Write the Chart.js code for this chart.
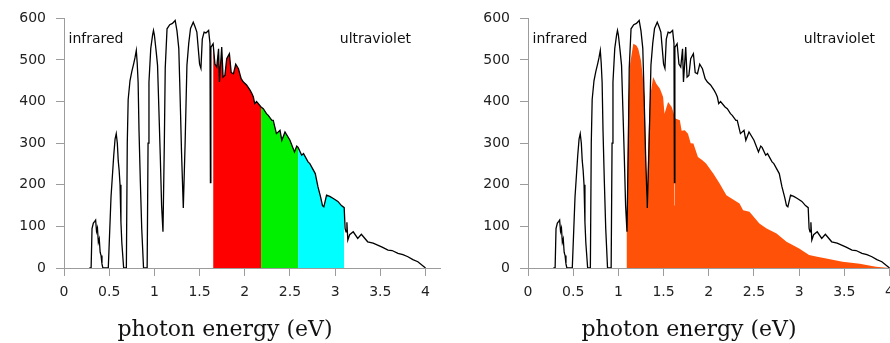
<!DOCTYPE html>
<html>
<head>
<meta charset="utf-8">
<script src="https://cdn.jsdelivr.net/npm/chart.js@4/dist/chart.umd.min.js"></script>
<style>
html, body { margin: 0; padding: 0; background: #fff; width: 890px; height: 343px; overflow: hidden; }
.panel { position: absolute; top: 0; width: 450px; height: 343px; }
</style>
</head>
<body>
<div class="panel" style="left:0"><canvas id="left"></canvas></div>
<div class="panel" style="left:464px"><canvas id="right"></canvas></div>
<script>
// solar spectrum, black curve (photon energy eV, W/m2/eV)
var energy = [
  0.28, 0.30, 0.31, 0.325, 0.34, 0.35, 0.36, 0.37, 0.38, 0.39, 0.40, 0.41, 0.42, 0.43,
  0.49, 0.52, 0.55, 0.565, 0.578, 0.59, 0.60, 0.61, 0.62, 0.63, 0.64, 0.66,
  0.69, 0.70, 0.71, 0.73, 0.75, 0.77, 0.785, 0.80, 0.81, 0.82, 0.83, 0.845, 0.86, 0.88,
  0.92, 0.93, 0.94, 0.96, 0.98, 0.99, 1.00, 1.02, 1.035, 1.05, 1.065, 1.08, 1.095,
  1.11, 1.12, 1.14, 1.17, 1.20, 1.23, 1.25, 1.27, 1.28, 1.29, 1.30, 1.32,
  1.34, 1.36, 1.38, 1.40, 1.43, 1.45, 1.47, 1.50, 1.515, 1.53, 1.55, 1.57, 1.60, 1.615, 1.62, 1.625,
  1.65, 1.67, 1.69, 1.71, 1.72, 1.745, 1.76, 1.78, 1.80, 1.83, 1.85, 1.875, 1.90, 1.93, 1.96, 1.985,
  2.02, 2.06, 2.08, 2.095, 2.11, 2.13, 2.18, 2.205, 2.24, 2.26, 2.30, 2.315, 2.35, 2.39, 2.41, 2.445,
  2.50, 2.55, 2.575, 2.59, 2.63, 2.65, 2.70, 2.72, 2.78, 2.81, 2.84, 2.86, 2.875, 2.905, 2.94, 2.98,
  3.03, 3.07, 3.10, 3.11, 3.12, 3.13, 3.14, 3.16, 3.20, 3.25, 3.29, 3.36, 3.42, 3.47, 3.52, 3.585,
  3.63, 3.695, 3.75, 3.805, 3.86, 3.915, 4.00
];
var spectrum = [
  0, 0, 95, 108, 112, 115, 88, 96, 62, 70, 38, 30, 10, 0,
  0, 170, 270, 310, 323, 300, 258, 235, 200, 110, 60, 0,
  0, 300, 405, 450, 472, 490, 505, 523, 492, 447, 330, 205, 95, 0,
  0, 300, 447, 528, 560, 571, 560, 520, 487, 380, 271, 150, 87,
  300, 480, 575, 585, 588, 595, 570, 528, 450, 367, 280, 144,
  300, 487, 540, 576, 591, 580, 567, 490, 480, 550, 567, 565, 571, 540, 205, 530,
  539, 490, 483, 527, 447, 531, 459, 463, 503, 515, 470, 467, 490, 479, 455, 447,
  440, 427, 419, 411, 395, 400, 387, 383, 371, 367, 355, 355, 323, 331, 307, 327,
  307, 279, 293, 290, 271, 275, 255, 251, 227, 195, 170, 150, 147, 175, 172, 167,
  160, 150, 145, 95, 87, 110, 67, 80, 87, 71, 81, 63, 60, 55, 50, 43,
  42, 35, 32, 27, 20, 15, 0
];

// colour bands under the curve (left panel)
var bandEdges = [1.65, 2.18, 2.59, 3.10];
var bandColors = ['#ff0000', '#00f000', '#00ffff'];

// orange area (right panel)
var usedEnergy = [
  1.09, 1.10, 1.11, 1.13, 1.165, 1.20, 1.22, 1.25, 1.27, 1.29, 1.305, 1.315, 1.33, 1.35,
  1.385, 1.42, 1.46, 1.495, 1.51, 1.55, 1.59, 1.615, 1.62, 1.625, 1.68, 1.70, 1.735, 1.77,
  1.80, 1.83, 1.88, 1.93, 1.97, 2.05, 2.12, 2.195, 2.23, 2.34, 2.38, 2.45, 2.56, 2.64,
  2.75, 2.86, 3.00, 3.11, 3.20, 3.30, 3.48, 3.67, 3.85, 4.00
];
var usedPower = [
  87, 250, 400, 491, 539, 535, 527, 499, 460, 411, 250, 147, 300, 411,
  459, 443, 431, 411, 371, 399, 387, 370, 150, 360, 355, 330, 331, 323,
  300, 299, 267, 259, 251, 227, 203, 175, 170, 155, 139, 135, 107, 95,
  83, 63, 47, 31, 27, 23, 15, 10, 3, 0
];

var xTicks = [0, 0.5, 1, 1.5, 2, 2.5, 3, 3.5, 4];
var yTicks = [0, 100, 200, 300, 400, 500, 600];

var axisGrey = '#9c9c9c';

function pts(xs, ys) {
  return xs.map(function(x, i) { return {x: x, y: ys[i]}; });
}

function axes() {
  return {
    x: {
      type: 'linear', min: 0, max: 4.16, z: 1,
      afterBuildTicks: function(s) { s.ticks = xTicks.map(function(v) { return {value: v}; }); },
      afterFit: function(s) { s.height = 75; },
      grid: { drawOnChartArea: false, drawTicks: true, tickLength: 8, color: axisGrey },
      border: { color: axisGrey, width: 1 },
      ticks: { color: '#222', padding: 8, maxRotation: 0, font: { family: 'DejaVu Sans', size: 14 },
        callback: function(v) { return String(v); } }
    },
    y: {
      type: 'linear', min: 0, max: 600, z: 1,
      afterBuildTicks: function(s) { s.ticks = yTicks.map(function(v) { return {value: v}; }); },
      afterFit: function(s) { s.width = 64; },
      grid: { drawOnChartArea: false, drawTicks: true, tickLength: 8, color: axisGrey },
      border: { color: axisGrey, width: 1 },
      ticks: { color: '#222', padding: 10, font: { family: 'DejaVu Sans', size: 14 } }
    }
  };
}

var textPlugin = {
  id: 'panelText',
  afterDraw: function(chart) {
    var ctx = chart.ctx, x = chart.scales.x, y = chart.scales.y;
    ctx.save();
    ctx.fillStyle = '#111';
    ctx.font = '14px "DejaVu Sans"';
    ctx.textBaseline = 'middle';
    ctx.textAlign = 'left';
    ctx.fillText('infrared', x.getPixelForValue(0.05), y.getPixelForValue(550));
    ctx.textAlign = 'right';
    ctx.fillText('ultraviolet', x.getPixelForValue(3.84), y.getPixelForValue(550));
    ctx.font = '22px "DejaVu Serif"';
    ctx.textAlign = 'center';
    ctx.textBaseline = 'alphabetic';
    ctx.fillText('photon energy (eV)', chart.width / 2, 336);
    ctx.restore();
  }
};

function curve() {
  return { data: pts(energy, spectrum), borderColor: '#000', borderWidth: 1.3,
    pointRadius: 0, tension: 0, fill: false };
}

function area(data, color) {
  return { data: data, borderColor: 'rgba(0,0,0,0)', borderWidth: 0, backgroundColor: color,
    pointRadius: 0, tension: 0, fill: 'origin' };
}

function makeChart(id, datasets) {
  return new Chart(document.getElementById(id).getContext('2d'), {
    type: 'line',
    data: { datasets: datasets },
    options: {
      responsive: true,
      maintainAspectRatio: false,
      animation: false,
      layout: { padding: { top: 18, right: 10, left: 0, bottom: 0 } },
      plugins: { legend: { display: false }, tooltip: { enabled: false } },
      scales: axes()
    },
    plugins: [textPlugin]
  });
}

// left: spectrum with red / green / cyan bands
var leftSets = [curve()];
for (var b = 0; b < bandColors.length; b++) {
  var lo = bandEdges[b], hi = bandEdges[b + 1];
  var band = pts(energy, spectrum).filter(function(p) { return p.x >= lo && p.x <= hi; });
  leftSets.push(area(band, bandColors[b]));
}
makeChart('left', leftSets);

// right: spectrum with the orange area
makeChart('right', [curve(), area(pts(usedEnergy, usedPower), '#ff5208')]);
</script>
</body>
</html>
